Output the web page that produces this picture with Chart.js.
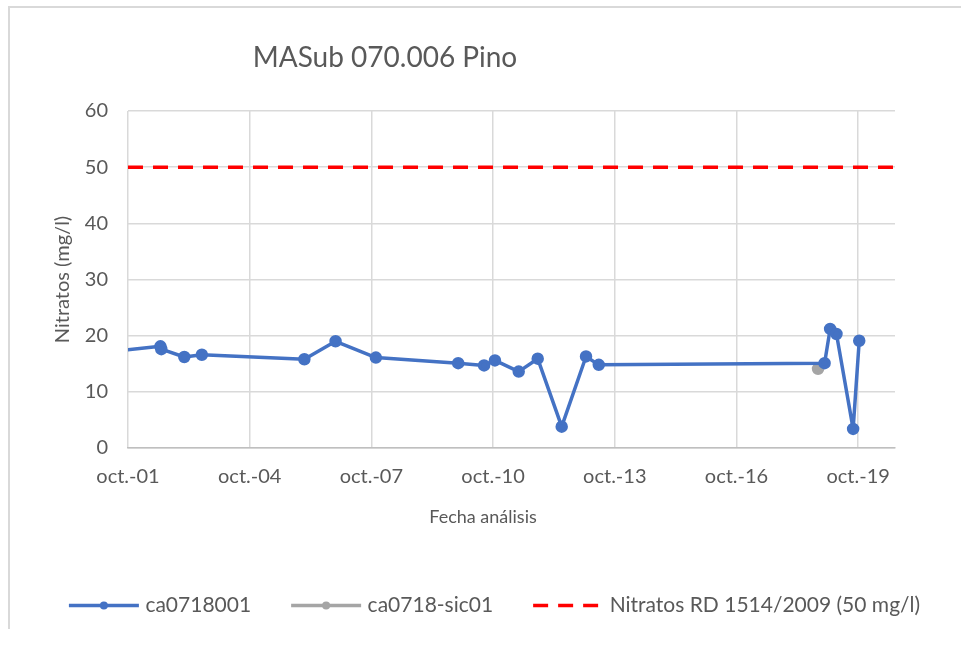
<!DOCTYPE html>
<html>
<head>
<meta charset="utf-8">
<script src="https://cdn.jsdelivr.net/npm/chart.js@4.4.0/dist/chart.umd.min.js"></script>
<style>
  body { margin: 0; background: #fff; }
  .marco { position: absolute; left: 8px; top: 6px; width: 1000px; height: 621px;
           border-left: 2px solid #d9d9d9; border-top: 2px solid #d9d9d9; }
  #myChart { position: absolute; left: 0; top: 0; }
</style>
</head>
<body>
<div class="marco"></div>
<canvas id="myChart" width="961" height="650"></canvas>
<script>
// datos
const fechasPozo = ["2001-05-01", "2002-07-20", "2002-07-28", "2003-02-20", "2003-07-28",
  "2006-02-05", "2006-11-13", "2007-11-11", "2009-11-21", "2010-07-12", "2010-10-18",
  "2011-05-20", "2011-11-07", "2012-06-10", "2013-01-15", "2013-05-10", "2018-12-03",
  "2019-01-22", "2019-03-20", "2019-08-17", "2019-10-11"];
const nitratosPozo = [17.2, 18.1, 17.6, 16.2, 16.6, 15.8, 19.0, 16.1, 15.1, 14.7, 15.6,
  13.6, 15.9, 3.8, 16.3, 14.8, 15.1, 21.2, 20.3, 3.4, 19.1];

const fechasSic = ["2018-10-05"];
const nitratosSic = [14.1];

const limiteNitratos = 50;
const ejeInicio = "2001-10-01";
const ejeFin = "2020-08-28";

const añosTicks = [2001, 2004, 2007, 2010, 2013, 2016, 2019];
const etiquetasX = ["oct.-01", "oct.-04", "oct.-07", "oct.-10", "oct.-13", "oct.-16", "oct.-19"];

const gris = "#595959";
const fuente = "Lato, 'Liberation Sans', sans-serif";

function aFecha(s) {
  const p = s.split("-").map(Number);
  return Date.UTC(p[0], p[1] - 1, p[2]);
}

function puntos(fechas, valores) {
  return fechas.map((f, i) => ({ x: aFecha(f), y: valores[i] }));
}

// titulos dibujados a mano (en excel no estan centrados)
const titulos = {
  id: "titulos",
  afterDraw(chart) {
    const ctx = chart.ctx;
    ctx.save();
    ctx.fillStyle = gris;
    ctx.textAlign = "center";
    ctx.textBaseline = "middle";
    ctx.font = "28px " + fuente;
    ctx.fillText("MASub 070.006 Pino", 385, 58);
    ctx.font = "18px " + fuente;
    ctx.fillText("Fecha análisis", 483, 517);
    ctx.restore();
  }
};

// la leyenda de chart.js no pone el punto ni el trazo, lo dibujo aqui
const LARGO_LINEA = 70;
const marcasLeyenda = {
  id: "marcasLeyenda",
  afterDraw(chart) {
    const leg = chart.legend;
    const ctx = chart.ctx;
    leg.legendItems.forEach((item, i) => {
      const ds = chart.data.datasets[item.datasetIndex];
      const box = leg.legendHitBoxes[i];
      const x0 = box.left;
      const cy = box.top + box.height / 2;
      ctx.save();
      ctx.strokeStyle = ds.borderColor;
      ctx.lineWidth = ds.borderWidth;
      ctx.setLineDash(ds.borderDash || []);
      ctx.beginPath();
      ctx.moveTo(x0, cy);
      ctx.lineTo(x0 + LARGO_LINEA, cy);
      ctx.stroke();
      if (ds.pointRadius) {
        ctx.fillStyle = ds.borderColor;
        ctx.beginPath();
        ctx.arc(x0 + LARGO_LINEA / 2, cy, 4, 0, Math.PI * 2);
        ctx.fill();
      }
      ctx.restore();
    });
  }
};

const data = {
  datasets: [
    {
      label: "ca0718001",
      data: puntos(fechasPozo, nitratosPozo),
      borderColor: "#4472C4",
      backgroundColor: "#4472C4",
      borderWidth: 3.5,
      borderJoinStyle: "round",
      borderCapStyle: "round",
      pointRadius: 4.5,
      pointHoverRadius: 4.5,
      tension: 0
    },
    {
      label: "ca0718-sic01",
      data: puntos(fechasSic, nitratosSic),
      borderColor: "#A5A5A5",
      backgroundColor: "#A5A5A5",
      borderWidth: 3.5,
      pointRadius: 4.5,
      pointHoverRadius: 4.5
    },
    {
      label: "Nitratos RD 1514/2009 (50 mg/l)",
      data: [{ x: aFecha(ejeInicio), y: limiteNitratos }, { x: aFecha(ejeFin), y: limiteNitratos }],
      borderColor: "#FF0000",
      backgroundColor: "#FF0000",
      borderWidth: 3.5,
      borderDash: [15, 10],
      pointRadius: 0
    }
  ]
};

const config = {
  type: "line",
  data,
  options: {
    responsive: false,
    animation: false,
    layout: { padding: { left: 28, top: 111, right: 0, bottom: 24 } },
    plugins: {
      legend: {
        position: "bottom",
        labels: {
          boxWidth: 66,
          boxHeight: 10,
          padding: 40,
          color: gris,
          font: { family: fuente, size: 21 },
          generateLabels(chart) {
            const items = Chart.defaults.plugins.legend.labels.generateLabels(chart);
            items.forEach(it => {
              it.fillStyle = "rgba(0,0,0,0)";
              it.strokeStyle = "rgba(0,0,0,0)";
              it.lineWidth = 0;
            });
            return items;
          }
        }
      },
      tooltip: { enabled: false }
    },
    scales: {
      x: {
        type: "linear",
        min: aFecha(ejeInicio),
        max: aFecha(ejeFin),
        afterBuildTicks(scale) {
          scale.ticks = añosTicks.map(a => ({ value: Date.UTC(a, 9, 1) }));
        },
        afterFit(scale) { scale.height = 107; },
        ticks: {
          autoSkip: false,
          maxRotation: 0,
          padding: 17,
          color: gris,
          font: { family: fuente, size: 20 },
          callback: (v, i) => etiquetasX[i]
        },
        grid: { color: "#d9d9d9", lineWidth: 1.5, drawTicks: false },
        border: { color: "#bfbfbf", width: 1.5 }
      },
      y: {
        min: 0,
        max: 60,
        afterFit(scale) { scale.width = 100; },
        ticks: {
          stepSize: 10,
          padding: 20,
          color: gris,
          font: { family: fuente, size: 20 }
        },
        grid: { color: "#d9d9d9", lineWidth: 1.5, drawTicks: false },
        border: { display: false },
        title: {
          display: true,
          text: "Nitratos (mg/l)",
          color: gris,
          font: { family: fuente, size: 20 },
          padding: { top: 23, bottom: 0 }
        }
      },
      // eje vacio a la derecha solo para dejar el margen del area de trazado
      margen: {
        type: "linear",
        position: "right",
        afterFit(scale) { scale.width = 66; },
        ticks: { display: false },
        grid: { display: false, drawTicks: false },
        border: { display: false }
      }
    }
  },
  plugins: [titulos, marcasLeyenda]
};

const myChart = document.getElementById("myChart");
new Chart(myChart, config);
</script>
</body>
</html>
